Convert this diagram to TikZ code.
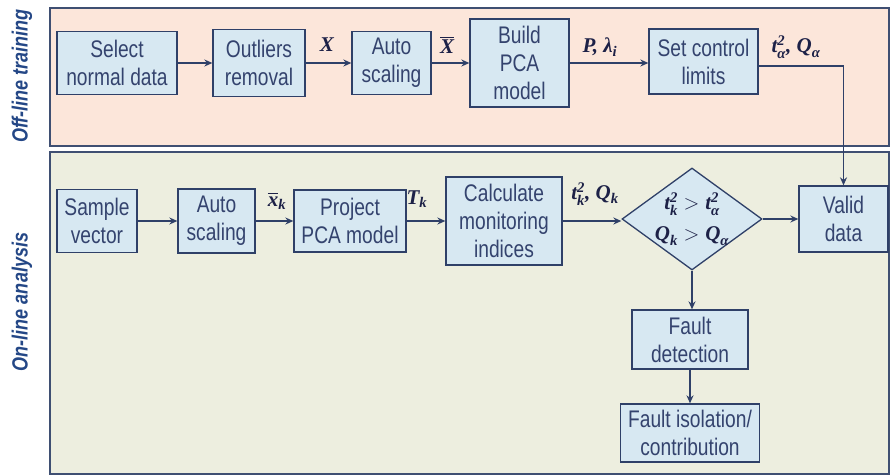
\documentclass[tikz,border=0pt]{standalone}
\usepackage{amsmath}
\usepackage{fontspec}
\setmainfont{Liberation Sans}
\newfontfamily\boxfont{Liberation Sans}[FakeStretch=0.8]
\newfontfamily\sidefont{Liberation Sans}[FakeStretch=0.82]
\newfontfamily\mathlbl{Liberation Serif}
\usetikzlibrary{shapes.geometric,arrows.meta}

\definecolor{topfill}{HTML}{FCE6DA}
\definecolor{botfill}{HTML}{EDEEDF}
\definecolor{panelline}{HTML}{3F4F72}
\definecolor{boxfill}{HTML}{D7E8F2}
\definecolor{boxline}{HTML}{2F4068}
\definecolor{boxtext}{HTML}{34436E}
\definecolor{lbltext}{HTML}{1D2147}
\definecolor{sidetext}{HTML}{244786}

% bold italic serif symbols used in the flow labels
\newcommand\lb[1]{\text{\mathlbl\bfseries\itshape #1}}

\tikzset{
  panel/.style={draw=panelline, line width=1.5pt},
  stepbox/.style 2 args={draw=boxline, line width=1.3pt, fill=boxfill,
    text=boxtext, font=\boxfont\fontsize{24}{28}\selectfont, align=center,
    inner sep=0pt, minimum width=#1, minimum height=#2},
  decision/.style={diamond, draw=boxline, line width=1.3pt, fill=boxfill,
    inner sep=0pt, minimum width=140pt, minimum height=102pt},
  arr/.style={draw=boxline, line width=1.3pt, -{Stealth[length=8pt,width=7pt]}},
  flowline/.style={draw=boxline, line width=1.3pt},
  lbl/.style={text=lbltext, font=\fontsize{21}{31}\selectfont, inner sep=0pt, align=center},
  side/.style={text=sidetext, font=\sidefont\bfseries\itshape\fontsize{22}{26}\selectfont,
    rotate=90, inner sep=0pt}
}

\begin{document}
\begin{tikzpicture}[x=1pt, y=-1pt]
\useasboundingbox (0,0) rectangle (892,476);

% phase panels
\filldraw[panel, fill=topfill] (50,8) rectangle (889,146);
\filldraw[panel, fill=botfill] (50,152) rectangle (889,474);
\node[side] (offlbl) at (22,76) {Off-line training};
\node[side] (onlbl) at (22,302) {On-line analysis};

% off-line training chain
\node[stepbox={120pt}{63pt}] (sel) at (117,63) {Select\\normal data};
\node[stepbox={92pt}{67pt}] (out) at (259,63) {Outliers\\removal};
\node[stepbox={79pt}{63pt}] (asc) at (391.5,63) {Auto\\scaling};
\node[stepbox={99pt}{88pt}] (pca) at (519.5,63) {Build\\PCA\\model};
\node[stepbox={109pt}{65pt}] (scl) at (703.5,61.5) {Set control\\limits};

\draw[arr] (sel) -- (out);
\draw[arr] (out) -- (asc);
\draw[arr] (asc) -- (pca);
\draw[arr] (pca) -- (pca -| scl.west);

\node[lbl] (lx) at (327,45) {$\lb{X}$};
\node[lbl] (lxb) at (447,45) {$\overline{\lb{X}}$};
\node[lbl] (lpl) at (600,47) {$\lb{P, λ}_{\lb{i}}$};
\node[lbl] (llim) at (796,47) {$\lb{t}^{\lb{2}}_{\lb{α}}\lb{, Q}_{\lb{α}}$};

% on-line analysis chain
\node[stepbox={80pt}{63pt}] (smp) at (97,221) {Sample\\vector};
\node[stepbox={77pt}{64pt}] (as2) at (216.5,221) {Auto\\scaling};
\node[stepbox={112pt}{62pt}] (prj) at (350,221) {Project\\PCA model};
\node[stepbox={116pt}{88pt}] (cal) at (504,221) {Calculate\\monitoring\\indices};
\node[decision] (dia) at (692,219) {};
\node[lbl] (cond) at (692,219) {$\lb{t}^{\lb{2}}_{\lb{k}} > \lb{t}^{\lb{2}}_{\lb{α}}$\\$\lb{Q}_{\lb{k}} > \lb{Q}_{\lb{α}}$};
\node[stepbox={89pt}{66pt}] (val) at (843.5,219) {Valid\\data};
\node[stepbox={116pt}{59pt}] (fd) at (690,339.5) {Fault\\detection};
\node[stepbox={139pt}{58pt}] (fi) at (690,433) {Fault isolation/\\contribution};

\draw[arr] (smp) -- (as2);
\draw[arr] (as2) -- (prj);
\draw[arr] (prj) -- (cal);
\draw[arr] (cal) -- (cal -| dia.west);
\draw[arr] (dia.east) -- (dia.east -| val.west);
\draw[arr] (dia.south) -- (dia.south |- fd.north);
\draw[arr] (fd) -- (fi);

% control limits feed the on-line check
\draw[arr] ([yshift=-4.5pt]scl.east) -| (val.north);

\node[lbl] (lxk) at (277,201) {$\overline{\lb{x}}_{\lb{k}}$};
\node[lbl] (ltk) at (417,199) {$\lb{T}_{\lb{k}}$};
\node[lbl] (lidx) at (595,194) {$\lb{t}^{\lb{2}}_{\lb{k}}\lb{, Q}_{\lb{k}}$};
\end{tikzpicture}
\end{document}
